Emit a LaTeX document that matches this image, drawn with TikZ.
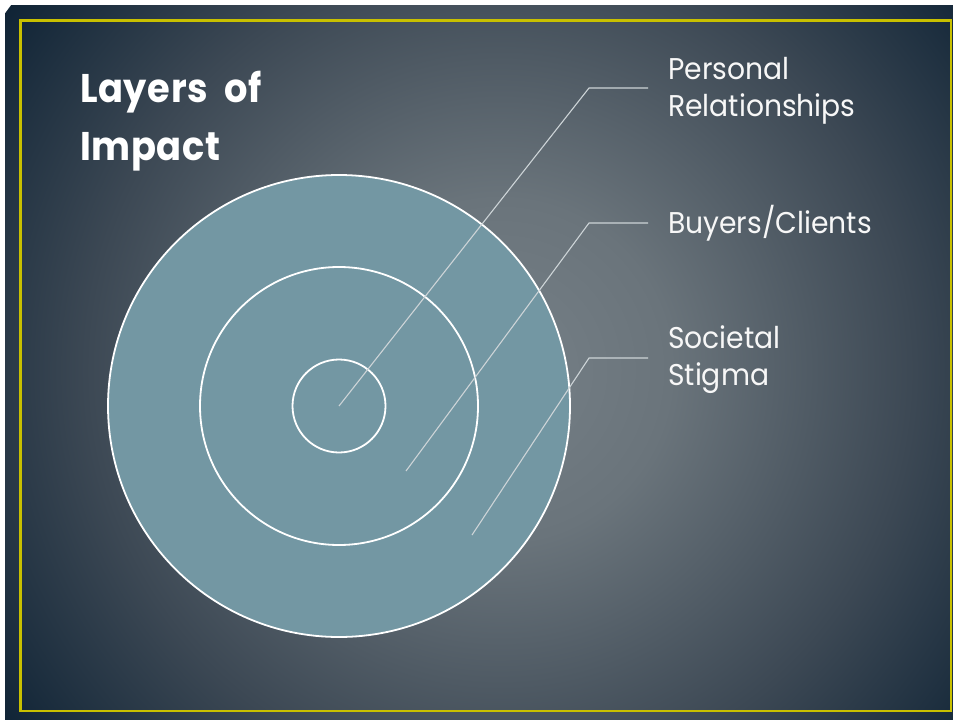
\documentclass[tikz,border=0pt]{standalone}
\usepackage{fontspec}
\setmainfont{Poppins}
\newfontfamily\lblfont{Poppins}[FakeStretch=0.94]
\newfontfamily\ttlfont{Poppins}[FakeStretch=0.92,LetterSpace=1.5,WordSpace=2]
\definecolor{ringfill}{RGB}{115,151,163}
\definecolor{leader}{RGB}{205,212,215}
\definecolor{frameyellow}{RGB}{200,192,0}
\definecolor{bgA}{RGB}{118,128,135}
\definecolor{bgB}{RGB}{106,116,123}
\definecolor{bgC}{RGB}{60,72,84}
\definecolor{bgD}{RGB}{16,36,54}
% radial fill: the path's bounding box spans the 25bp radius
\pgfdeclareradialshading{slidebg}{\pgfpoint{0bp}{0bp}}{%
  color(0bp)=(bgA); color(7bp)=(bgB); color(17bp)=(bgC); color(25bp)=(bgD); color(50bp)=(bgD)}
\tikzset{
  ring/.style={circle, draw=white, line width=1.8pt, fill=ringfill, inner sep=0pt},
  leaderline/.style={draw=leader, line width=1.1pt},
  lbl/.style={anchor=base west, inner sep=0pt, text=white!94!gray,
    font=\lblfont\fontsize{30}{36}\selectfont},
  ttl/.style={anchor=base west, inner sep=0pt, text=white,
    font=\ttlfont\bfseries\fontsize{40}{58}\selectfont}
}
\begin{document}
\begin{tikzpicture}[x=1pt,y=-1pt]
  \useasboundingbox (0,0) rectangle (953,720);
  \fill[white] (0,0) rectangle (953,720);
  % slide background
  \begin{scope}
    \clip (5,5) rectangle (953,720);
    \shade[shading=slidebg] (500,370) circle [radius=610pt];
  \end{scope}
  \draw[frameyellow, line width=2.4pt] (20.5,20.5) rectangle (951,711);

  % title
  \node[ttl] (title1) at (80,102) {Layers of};
  \node[ttl] (title2) at (80,160) {Impact};

  % concentric layers
  \coordinate (c) at (339,406);
  \node[ring, minimum size=462pt] (outer) at (c) {};
  \node[ring, minimum size=278pt] (middle) at (c) {};
  \node[ring, minimum size=93pt] (inner) at (c) {};

  % leader lines
  \coordinate (ptB) at (406,471);
  \coordinate (ptS) at (472,535);
  \coordinate (kP) at (589,88);
  \coordinate (kB) at (589,223);
  \coordinate (kS) at (589,358);
  \coordinate (hP) at (648,88);
  \coordinate (hB) at (648,223);
  \coordinate (hS) at (648,358);
  \draw[leaderline] (c) -- (kP) -- (hP);
  \draw[leaderline] (ptB) -- (kB) -- (hB);
  \draw[leaderline] (ptS) -- (kS) -- (hS);

  % labels
  \node[lbl] (lp1) at (668,79) {Personal};
  \node[lbl] (lp2) at (668,116) {Relationships};
  \node[lbl] (lb) at (668,233) {Buyers/Clients};
  \node[lbl] (ls1) at (668,348) {Societal};
  \node[lbl] (ls2) at (668,385) {Stigma};
\end{tikzpicture}
\end{document}
